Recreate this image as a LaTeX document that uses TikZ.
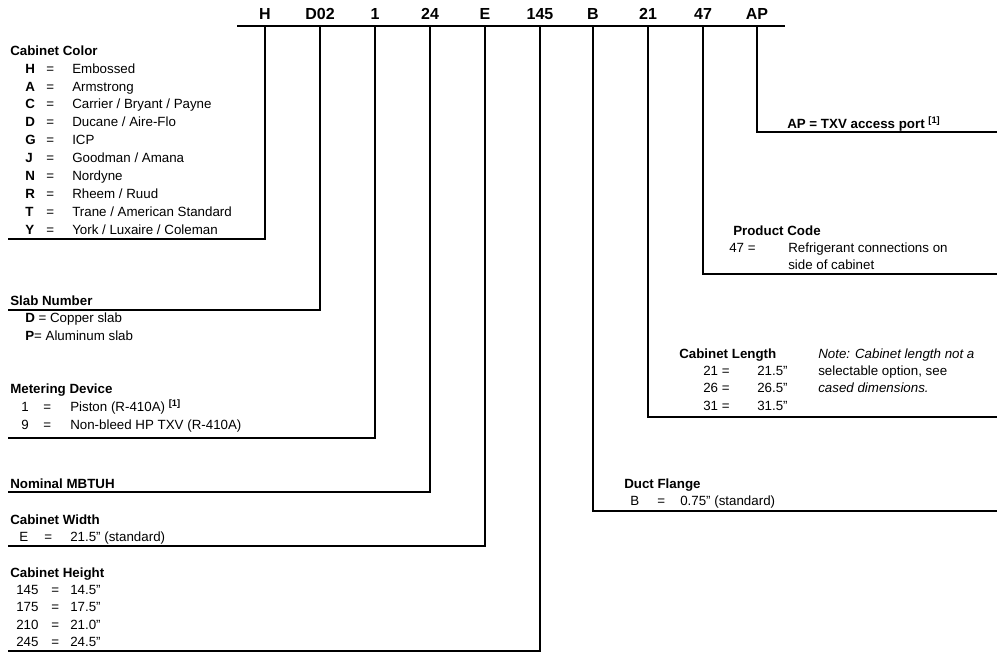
\documentclass[tikz,border=0pt]{standalone}
\usepackage{fontspec}
\setmainfont{Liberation Sans}
\begin{document}
\begin{tikzpicture}[x=0.75pt,y=-0.75pt,
	txt/.style={anchor=west,inner sep=0pt,text height=1.5ex,text depth=.3ex,font=\fontsize{10}{12}\selectfont},
	hd/.style={txt,font=\fontsize{10}{12}\selectfont\bfseries},
	code/.style={font=\fontsize{12}{14}\selectfont\bfseries,inner sep=0pt,text height=1.6ex,text depth=0pt},
	lead/.style={draw=black,line width=1.3pt}]
	\useasboundingbox (0,0) rectangle (997,656);
	\draw[lead] (237,26) -- (785,26);
	% code letters and their leaders
	\foreach \n/\t/\x in {cH/H/265,cD/D02/320,cM/1/375,cN/24/430,cW/E/485,cHt/145/540,cB/B/593,cL/21/648,cP/47/703,cA/AP/757}
		\node[code] (\n) at (\x,14) {\t};
	\foreach \n/\y in {cH/239,cD/310,cM/438,cN/492,cW/546,cHt/651}{
		\coordinate (e\n) at (8,\y);
		\draw[lead] (\n.south |- 0,27) -- (\n.south |- e\n) -- (e\n);
	}
	\foreach \n/\y in {cB/511,cL/417,cP/274,cA/132}{
		\coordinate (e\n) at (997,\y);
		\draw[lead] (\n.south |- 0,27) -- (\n.south |- e\n) -- (e\n);
	}
	% cabinet color
	\node[hd] (hColor) at (10,51) {Cabinet Color};
	\foreach \k/\t [count=\i] in {H/Embossed,A/Armstrong,C/{Carrier / Bryant / Payne},D/{Ducane / Aire-Flo},G/ICP,J/{Goodman / Amana},N/Nordyne,R/{Rheem / Ruud},T/{Trane / American Standard},Y/{York / Luxaire / Coleman}}{
		\node[hd] (colk\i) at (25,51+17.9*\i) {\k};
		\node[txt] (cole\i) at (46,51+17.9*\i) {=};
		\node[txt] (colv\i) at (72,51+17.9*\i) {\t};
	}
	% slab
	\node[hd] (hSlab) at (10,301) {Slab Number};
	\node[txt] (slab1) at (25,318) {\textbf{D} = Copper slab};
	\node[txt] (slab2) at (25,336) {\textbf{P}= Aluminum slab};
	% metering
	\node[hd] (hMeter) at (10,389) {Metering Device};
	\node[txt] (mk1) at (21,407) {1};
	\node[txt] (me1) at (43,407) {=};
	\node[txt] (mv1) at (70,407) {Piston (R-410A) \textsuperscript{\bfseries[1]}};
	\node[txt] (mk2) at (21,425) {9};
	\node[txt] (me2) at (43,425) {=};
	\node[txt] (mv2) at (70,425) {Non-bleed HP TXV (R-410A)};
	% nominal
	\node[hd] (hNom) at (10,484) {Nominal MBTUH};
	% width
	\node[hd] (hWidth) at (10,520) {Cabinet Width};
	\node[txt] (wk) at (19,537) {E};
	\node[txt] (we) at (44,537) {=};
	\node[txt] (wv) at (70,537) {21.5" (standard)};
	% height
	\node[hd] (hHeight) at (10,573) {Cabinet Height};
	\foreach \k/\t [count=\i] in {145/14.5,175/17.5,210/21.0,245/24.5}{
		\node[txt] (htk\i) at (16,573+17.3*\i) {\k};
		\node[txt] (hte\i) at (51,573+17.3*\i) {=};
		\node[txt] (htv\i) at (70,573+17.3*\i) {\t"};
	}
	% duct flange
	\node[hd] (hDuct) at (624,484) {Duct Flange};
	\node[txt] (dk) at (630,501) {B};
	\node[txt] (de) at (657,501) {=};
	\node[txt] (dv) at (680,501) {0.75" (standard)};
	% length
	\node[hd] (hLen) at (679,354) {Cabinet Length};
	\foreach \k/\t [count=\i] in {21/21.5,26/26.5,31/31.5}{
		\node[txt] (lk\i) at (703,354+17.3*\i) {\k\ =};
		\node[txt] (lv\i) at (757,354+17.3*\i) {\t"};
	}
	\node[txt,font=\fontsize{10}{12}\selectfont\itshape] (note1) at (818,354) {Note: Cabinet length not a};
	\node[txt] (note2) at (818,371) {selectable option, see};
	\node[txt,font=\fontsize{10}{12}\selectfont\itshape] (note3) at (818,388) {cased dimensions.};
	% product code
	\node[hd] (hProd) at (733,231) {Product Code};
	\node[txt] (pk) at (729,248) {47 =};
	\node[txt] (pv1) at (788,248) {Refrigerant connections on};
	\node[txt] (pv2) at (788,265) {side of cabinet};
	% access port
	\node[hd] (hAP) at (787,124) {AP = TXV access port \textsuperscript{[1]}};
\end{tikzpicture}
\end{document}
